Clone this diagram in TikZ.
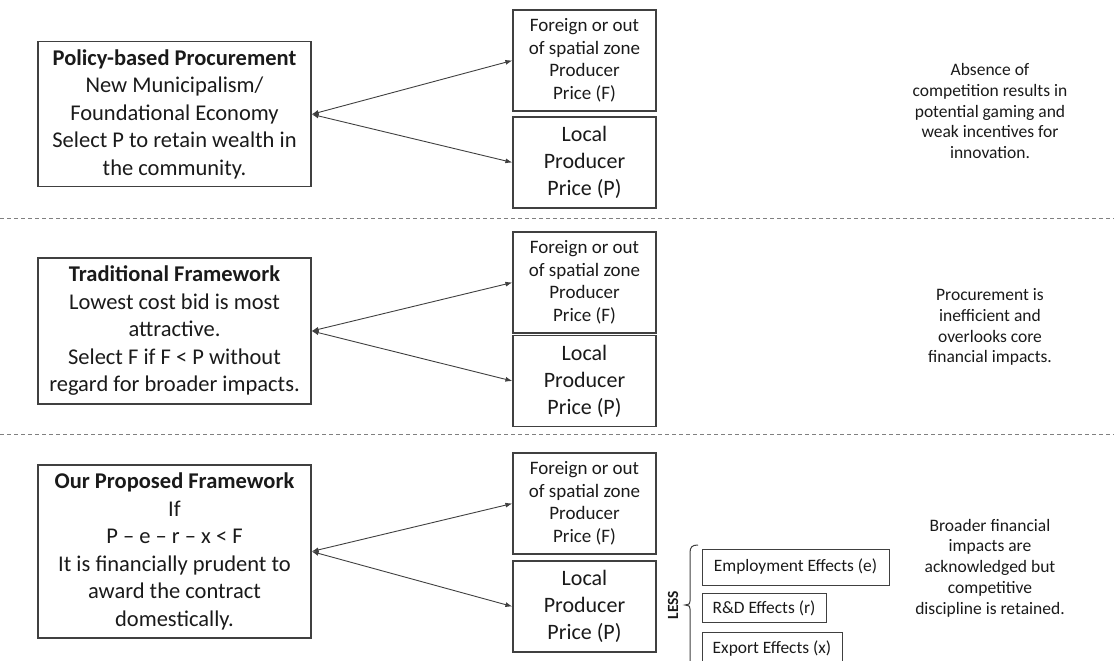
\documentclass[tikz,border=0pt]{standalone}
\usepackage{fontspec}
\setmainfont{Carlito}
\usetikzlibrary{arrows.meta}
\definecolor{boxc}{HTML}{404040}
\definecolor{txt}{HTML}{1A1A1A}
\definecolor{dashc}{HTML}{808080}
\begin{document}
\begin{tikzpicture}[x=1pt,y=-1pt,
  box/.style={draw=boxc, line width=1.2pt, inner sep=0pt, align=center, text=txt},
  bigbox/.style={box, minimum width=273pt, font=\fontsize{22.5}{27.5}\selectfont},
  fbx/.style={box, minimum width=143pt, minimum height=101pt, font=\fontsize{19}{22.5}\selectfont},
  pbx/.style={box, minimum width=143pt, minimum height=91pt, font=\fontsize{22}{27}\selectfont},
  effbox/.style={box, line width=1pt, font=\fontsize{17.4}{20}\selectfont},
  note/.style={align=center, text=txt, inner sep=0pt, font=\fontsize{17.5}{20.8}\selectfont},
  conn/.style={draw=boxc, line width=0.9pt, {Latex[length=7pt,width=5pt]}-{Latex[length=7pt,width=5pt]}},
  sep/.style={draw=dashc, line width=1pt, dash pattern=on 4pt off 3pt}
]
\useasboundingbox (0,0) rectangle (1114,661);

% separators
\coordinate (s1a) at (0,218);
\coordinate (s1b) at (1114,218);
\coordinate (s2a) at (0,434);
\coordinate (s2b) at (1114,434);
\draw[sep] (s1a) -- (s1b);
\draw[sep] (s2a) -- (s2b);

% section 1
\node[bigbox, minimum height=145pt] (L1) at (174.5,114.3)
  {\textbf{Policy-based Procurement}\\New Municipalism/\\Foundational Economy\\Select P to retain wealth in\\the community.};
\node[fbx] (F1) at (584.5,60.5) {Foreign or out\\of spatial zone\\Producer\\Price (F)};
\node[pbx] (P1) at (584.5,162.5) {Local\\Producer\\Price (P)};
\draw[conn] (L1.east) -- (F1.west);
\draw[conn] (L1.east) -- (P1.west);
\node[note] (N1) at (990,111) {Absence of\\competition results in\\potential gaming and\\weak incentives for\\innovation.};

% section 2
\node[bigbox, minimum height=146pt] (L2) at (174.5,331)
  {\textbf{Traditional Framework}\\Lowest cost bid is most\\attractive.\\Select F if F < P without\\regard for broader impacts.};
\node[fbx] (F2) at (584.5,282.5) {Foreign or out\\of spatial zone\\Producer\\Price (F)};
\node[pbx] (P2) at (584.5,381) {Local\\Producer\\Price (P)};
\draw[conn] (L2.east) -- (F2.west);
\draw[conn] (L2.east) -- (P2.west);
\node[note] (N2) at (990,327) {Procurement is\\inefficient and\\overlooks core\\financial impacts.};

% section 3
\node[bigbox, minimum height=173pt] (L3) at (174.5,551.5)
  {\textbf{Our Proposed Framework}\\If\\P – e – r – x < F\\It is financially prudent to\\award the contract\\domestically.};
\node[fbx] (F3) at (584.5,503.5) {Foreign or out\\of spatial zone\\Producer\\Price (F)};
\node[pbx] (P3) at (584.5,606.5) {Local\\Producer\\Price (P)};
\draw[conn] (L3.east) -- (F3.west);
\draw[conn] (L3.east) -- (P3.west);
\node[note] (N3) at (990,568) {Broader financial\\impacts are\\acknowledged but\\competitive\\discipline is retained.};

% LESS and effects
\node[rotate=90, inner sep=0pt, text=txt, font=\fontsize{15.5}{18}\selectfont\bfseries] (less) at (673,605) {LESS};
\draw[boxc, line width=1pt] (698,545) .. controls (692,545) and (690,547) .. (690,553)
  -- (690,601) .. controls (690,604) .. (685,605) .. controls (690,606) .. (690,609) -- (690,668);
\node[effbox, minimum width=187pt, minimum height=36pt] (E1) at (795.5,567) {Employment Effects (e)};
\node[effbox, minimum width=124pt, minimum height=29pt] (E2) at (764,608) {R\&D Effects (r)};
\node[effbox, minimum width=140pt, minimum height=34pt] (E3) at (772,649) {Export Effects (x)};
\end{tikzpicture}
\end{document}
